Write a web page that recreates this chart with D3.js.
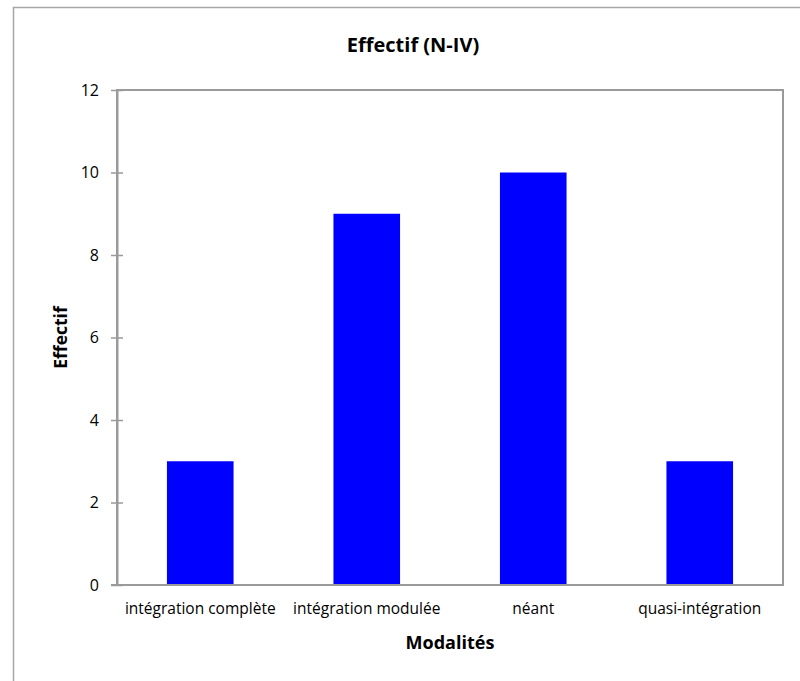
<!DOCTYPE html>
<html>
<head>
<meta charset="utf-8">
<script src="https://cdn.jsdelivr.net/npm/d3@7"></script>
<style>
  html, body { margin: 0; padding: 0; background: #fff; }
  svg { display: block; }
  text { font-family: "Open Sans", "Noto Sans", sans-serif; fill: #000; }
</style>
</head>
<body>
<svg id="chart" width="800" height="681"></svg>
<script>
const categories = ["intégration complète", "intégration modulée", "néant", "quasi-intégration"];
const values = [3, 9, 10, 3];
const yTicks = [0, 2, 4, 6, 8, 10, 12];
const title = "Effectif (N-IV)";
const xTitle = "Modalités";
const yTitle = "Effectif";

const svg = d3.select("#chart");
const plot = { left: 117, right: 783, top: 90, bottom: 585 };

// outer chart frame
svg.append("rect")
  .attr("x", 13.5).attr("y", 7.5)
  .attr("width", 820).attr("height", 700)
  .attr("fill", "#fff").attr("stroke", "#a6a6a6").attr("stroke-width", 1.5);

const x = d3.scaleBand().domain(categories)
  .range([plot.left, plot.right]).paddingInner(0.6).paddingOuter(0.3);
const y = d3.scaleLinear().domain([0, 12]).range([plot.bottom, plot.top]);

// plot area border
svg.append("rect")
  .attr("x", plot.left).attr("y", plot.top)
  .attr("width", plot.right - plot.left).attr("height", plot.bottom - plot.top)
  .attr("fill", "#fff").attr("stroke", "#9a9a9a").attr("stroke-width", 2);

// bars
svg.append("g").selectAll("rect").data(values).join("rect")
  .attr("x", (d, i) => x(categories[i]))
  .attr("width", x.bandwidth())
  .attr("y", d => y(d))
  .attr("height", d => y(0) - y(d))
  .attr("fill", "#0000ff");

// y axis
const yAxis = d3.axisLeft(y).tickValues(yTicks).tickSizeInner(6).tickSizeOuter(0).tickPadding(12);
const gy = svg.append("g").attr("transform", `translate(${plot.left},0)`).call(yAxis);
gy.select(".domain").attr("stroke", "#9a9a9a").attr("stroke-width", 2);
gy.selectAll(".tick line").attr("stroke", "#9a9a9a").attr("stroke-width", 1.5).attr("x2", -6).attr("x1", 6);
gy.selectAll(".tick text").style("font-size", "16px").style("font-family", "'Open Sans', sans-serif");

// x axis
const xAxis = d3.axisBottom(x).tickSize(0).tickPadding(18);
const gx = svg.append("g").attr("transform", `translate(0,${plot.bottom})`).call(xAxis);
gx.select(".domain").attr("stroke", "#9a9a9a").attr("stroke-width", 2)
  .attr("d", `M${plot.left - 6},0H${plot.right}`);
gx.selectAll(".tick text").style("font-size", "15.5px").style("font-family", "'Open Sans', sans-serif");

// titles
svg.append("text").attr("x", 413).attr("y", 52)
  .attr("text-anchor", "middle").style("font-size", "20px").style("font-weight", "bold")
  .text(title);
svg.append("text").attr("x", (plot.left + plot.right) / 2).attr("y", 649)
  .attr("text-anchor", "middle").style("font-size", "18px").style("font-weight", "bold")
  .text(xTitle);
svg.append("text")
  .attr("transform", `translate(67,${(plot.top + plot.bottom) / 2}) rotate(-90)`)
  .attr("text-anchor", "middle").style("font-size", "17.5px").style("font-weight", "bold")
  .text(yTitle);
</script>
</body>
</html>
